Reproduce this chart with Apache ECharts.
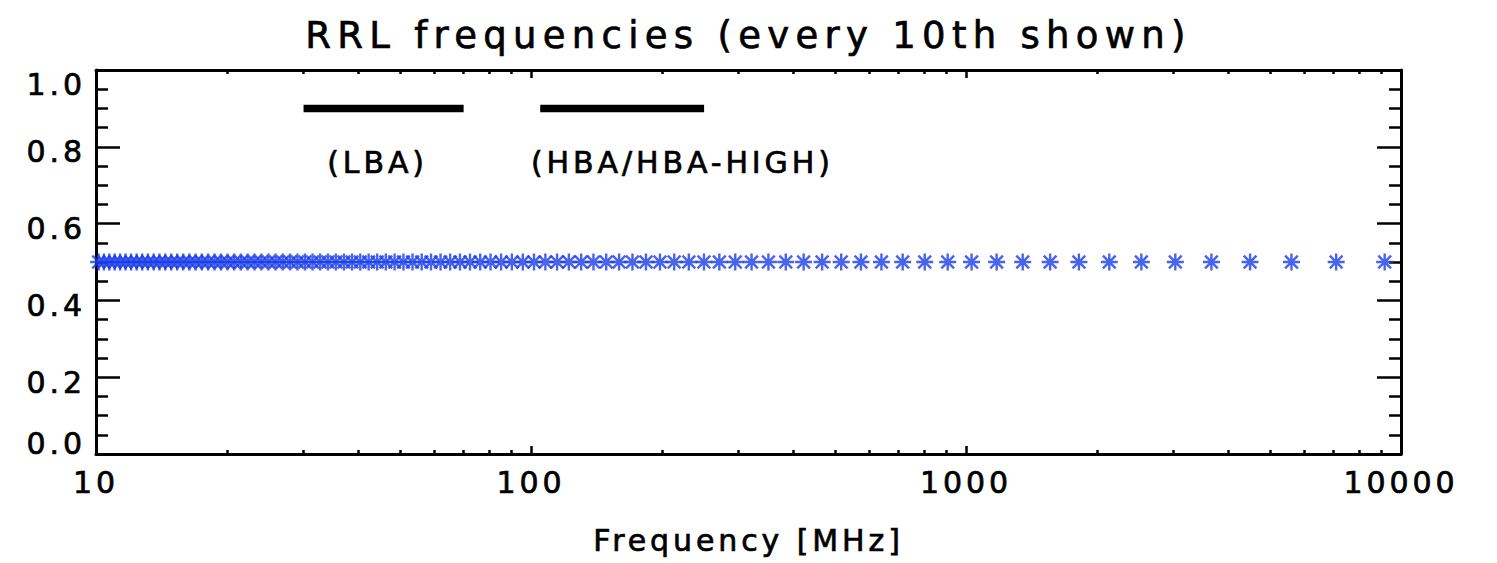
<!DOCTYPE html>
<html>
<head>
<meta charset="utf-8">
<script src="https://cdn.jsdelivr.net/npm/echarts@6/dist/echarts.min.js"></script>
<style>
  html, body { margin: 0; padding: 0; background: #ffffff; }
  #chart { width: 1497px; height: 563px; }
  /* wide-set lettering, like the plotting package's vector font */
  #chart text { letter-spacing: 0.13em; }
  #chart text[style*="37px"] { letter-spacing: 0.17em; }
</style>
</head>
<body>
<div id="chart"></div>
<script>
// Hydrogen radio recombination line frequencies (MHz), one line in every step of n
const rrlFreqMHz = [
  10.14, 10.43, 10.73, 11.04, 11.36, 11.69, 12.04, 12.40, 12.77, 13.16,
  13.57, 13.99, 14.43, 14.89, 15.37, 15.87, 16.39, 16.94, 17.51, 18.10,
  18.73, 19.38, 20.06, 20.78, 21.53, 22.31, 23.14, 24.00, 24.91, 25.87,
  26.87, 27.93, 29.04, 30.22, 31.46, 32.76, 34.14, 35.60, 37.15, 38.78,
  40.51, 42.35, 44.30, 46.37, 48.57, 50.91, 53.41, 56.07, 58.91, 61.95,
  65.19, 68.67, 72.41, 76.42, 80.72, 85.36, 90.37, 95.76, 101.6, 107.9,
  114.8, 122.2, 130.4, 139.2, 148.9, 159.4, 171.1, 183.8, 197.9, 213.4,
  230.6, 249.8, 271.0, 294.8, 321.4, 351.4, 385.2, 423.4, 466.9, 516.5,
  573.5, 639.1, 715.2, 803.8, 907.7, 1030, 1176, 1350, 1561, 1818,
  2135, 2530, 3028, 3666, 4498, 5600, 7095, 9173
];
const markerLevel = 0.5;

// LOFAR observing bands
const bandRangesMHz = [[30, 70], [105, 250]];
const bandLevel = 0.9;
const bandLabels = ['(LBA)', '(HBA/HBA-HIGH)'];
const bandLabelFreqMHz = [34, 100];
const bandLabelLevel = 0.76;

// Axis ticks
const xMajorTicks = [10, 100, 1000, 10000];
const xMinorTicks = [20, 30, 40, 50, 60, 70, 80, 90,
                     200, 300, 400, 500, 600, 700, 800, 900,
                     2000, 3000, 4000, 5000, 6000, 7000, 8000, 9000];
const yTicks = [0.0, 0.2, 0.4, 0.6, 0.8, 1.0];

const FONT = '"DejaVu Sans", sans-serif';
const INK = '#000000';
const MARK = '#1a3ce8';
const LABEL_SIZE = 30;
// a thin outline in the text colour gives the heavier pen stroke
const HEAVY = { textBorderColor: INK, textBorderWidth: 0.7 };

const axisLineStyle = { show: true, lineStyle: { color: INK, width: 3 } };

function xAxisDef(position, ticks, tickLen, showLine, showLabels) {
  return {
    type: 'log', logBase: 10, min: 10, max: 10000, position: position,
    axisLine: showLine ? axisLineStyle : { show: false },
    axisTick: { show: true, inside: true, length: tickLen, customValues: ticks,
                lineStyle: { color: INK, width: 2.5 } },
    minorTick: { show: false },
    splitLine: { show: false },
    axisLabel: showLabels ? Object.assign({
      show: true, customValues: xMajorTicks, margin: 13,
      fontFamily: FONT, fontSize: LABEL_SIZE, color: INK,
      formatter: v => String(Math.round(v))
    }, HEAVY) : { show: false }
  };
}

// the end labels sit inside the frame, the others hang just below their tick
const yLabelRich = {
  mid: Object.assign({ fontFamily: FONT, fontSize: LABEL_SIZE, color: INK, padding: [10, 0, 0, 0] }, HEAVY),
  top: Object.assign({ fontFamily: FONT, fontSize: LABEL_SIZE, color: INK, padding: [28, 0, 0, 0] }, HEAVY),
  bot: Object.assign({ fontFamily: FONT, fontSize: LABEL_SIZE, color: INK, padding: [0, 0, 22, 0] }, HEAVY)
};

function yAxisDef(position, showLabels) {
  return {
    type: 'value', min: 0, max: 1, interval: 0.2, position: position,
    axisLine: axisLineStyle,
    axisTick: { show: true, inside: true, length: 24, lineStyle: { color: INK, width: 2.5 } },
    minorTick: { show: true, splitNumber: 4, length: 12, lineStyle: { color: INK, width: 2.5 } },
    splitLine: { show: false },
    minorSplitLine: { show: false },
    axisLabel: showLabels ? {
      show: true, customValues: yTicks, margin: 10,
      fontFamily: FONT, fontSize: LABEL_SIZE, color: INK,
      rich: yLabelRich,
      formatter: v => {
        const key = v >= yTicks[yTicks.length - 1] ? 'top' : (v <= yTicks[0] ? 'bot' : 'mid');
        return '{' + key + '|' + v.toFixed(1) + '}';
      }
    } : { show: false }
  };
}

const bandSeries = bandRangesMHz.map(r => ({
  type: 'line', xAxisIndex: 0, yAxisIndex: 0,
  data: [[r[0], bandLevel], [r[1], bandLevel]],
  symbol: 'none', silent: true,
  lineStyle: { color: INK, width: 7.5, cap: 'butt' }
}));

const option = {
  backgroundColor: '#ffffff',
  animation: false,
  title: {
    text: 'RRL frequencies (every 10th shown)',
    left: 'center', top: 12,
    textStyle: Object.assign({ fontFamily: FONT, fontSize: 37, fontWeight: 'normal', color: INK }, HEAVY)
  },
  grid: { left: 96, right: 96, top: 70, bottom: 109, containLabel: false },
  xAxis: [
    Object.assign(xAxisDef('bottom', xMajorTicks, 8, true, true), {
      name: 'Frequency [MHz]', nameLocation: 'middle', nameGap: 71,
      nameTextStyle: Object.assign({ fontFamily: FONT, fontSize: LABEL_SIZE, color: INK }, HEAVY)
    }),
    xAxisDef('bottom', xMinorTicks, 4, false, false),
    xAxisDef('top', xMajorTicks, 8, true, false),
    xAxisDef('top', xMinorTicks, 4, false, false)
  ],
  yAxis: [yAxisDef('left', true), yAxisDef('right', false)],
  series: [
    {
      type: 'scatter', xAxisIndex: 0, yAxisIndex: 0,
      data: rrlFreqMHz.map(f => [f, markerLevel]),
      symbol: 'path://M0,-8L0,8M-8,0L8,0M-6,-6L6,6M-6,6L6,-6',
      symbolSize: 17,
      itemStyle: { color: MARK, borderColor: MARK, borderWidth: 2.4 },
      emphasis: { disabled: true },
      silent: true
    },
    ...bandSeries,
    {
      type: 'scatter', xAxisIndex: 0, yAxisIndex: 0,
      data: bandLabels.map((t, i) => ({ name: t, value: [bandLabelFreqMHz[i], bandLabelLevel] })),
      symbolSize: 0,
      itemStyle: { color: INK },
      emphasis: { disabled: true },
      silent: true,
      label: Object.assign({
        show: true, position: 'right', distance: 0, formatter: '{b}',
        fontFamily: FONT, fontSize: LABEL_SIZE, color: INK, opacity: 1
      }, HEAVY)
    }
  ]
};

const chart = echarts.init(document.getElementById('chart'), null, { renderer: 'svg' });
chart.setOption(option);
</script>
</body>
</html>
